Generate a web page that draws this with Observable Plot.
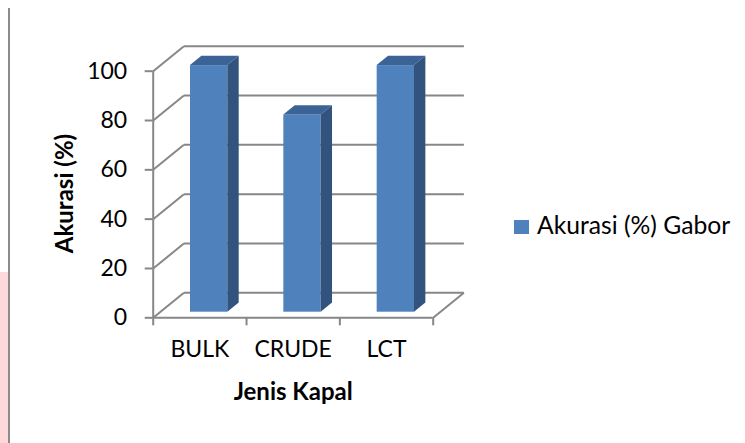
<!DOCTYPE html>
<html>
<head>
<meta charset="utf-8">
<script src="https://cdn.jsdelivr.net/npm/d3@7"></script>
<script src="https://cdn.jsdelivr.net/npm/@observablehq/plot@0.6"></script>
<style>
  html, body { margin: 0; padding: 0; background: #fff; }
  #wrap { position: relative; width: 745px; height: 443px; overflow: hidden; background: #fff; font-family: Lato, "Open Sans", sans-serif; }
  #chart { position: absolute; left: 0; top: 0; }
  #pagebar { position: absolute; left: 8px; top: 8px; width: 2px; height: 435px; background: #8c8c8c; }
  #pink { position: absolute; left: 0; top: 272px; width: 8px; height: 171px; background: #fdd9dc; }
  #legend { position: absolute; left: 514px; top: 210px; display: flex; align-items: center; font-size: 24.7px; color: #000; white-space: nowrap; }
  #legend .sw { width: 15px; height: 14px; background: #4F81BD; margin-right: 8px; margin-top: 5px; }
</style>
</head>
<body>
<div id="wrap">
  <div id="pink"></div>
  <div id="pagebar"></div>
  <div id="chart"></div>
  <div id="legend"><span class="sw"></span><span id="legtext"></span></div>
</div>
<script>
// ---- data ----
const categories = ["BULK", "CRUDE", "LCT"];
const values = [100, 80, 100];
const yTicks = [0, 20, 40, 60, 80, 100];
const seriesName = "Akurasi (%) Gabor";
const yTitle = "Akurasi (%)";
const xTitle = "Jenis Kapal";

// ---- 3D geometry (style constants, in data units) ----
const n = categories.length;
const yMax = 100;
const D = {x: 0.329, y: 10.13};              // full depth of the wall/floor
const fo = {x: 0.224 * D.x, y: 0.224 * D.y}; // bar front plane offset
const bd = {x: 0.37 * D.x, y: 0.37 * D.y};   // bar depth
const barLeft = 0.326, barWidth = 0.4;

const grid = "#878787";
const cFront = "#4F81BD", cTop = "#3C6395", cSide = "#31537D";

const bars = categories.map((c, i) => ({
  cat: c, v: values[i],
  L: i + barLeft + fo.x, R: i + barLeft + barWidth + fo.x
}));
const topPts = bars.flatMap(b => [
  {cat: b.cat, y: b.v + fo.y, x1: b.L, x2: b.R},
  {cat: b.cat, y: b.v + fo.y + bd.y, x1: b.L + bd.x, x2: b.R + bd.x}
]);
const sidePts = bars.flatMap(b => [
  {cat: b.cat, x: b.R, y1: fo.y, y2: b.v + fo.y},
  {cat: b.cat, x: b.R + bd.x, y1: fo.y + bd.y, y2: b.v + fo.y + bd.y}
]);

const fs = 23;
const fsTitle = 24;
const chart = Plot.plot({
  width: 500,
  height: 443,
  marginLeft: 152.7,
  marginRight: 36.6,
  marginTop: 45.7,
  marginBottom: 125.7,
  style: {fontFamily: "Lato, 'Open Sans', sans-serif", background: "transparent", color: "#000"},
  x: {domain: [0, n + D.x], axis: null},
  y: {domain: [0, yMax + D.y], axis: null},
  marks: [
    // back wall gridlines
    Plot.link(yTicks, {x1: D.x, x2: n + D.x, y1: t => t + D.y, y2: t => t + D.y, stroke: grid, strokeWidth: 2}),
    // side wall diagonals
    Plot.link(yTicks, {x1: 0, y1: t => t, x2: D.x, y2: t => t + D.y, stroke: grid, strokeWidth: 2}),
    // floor right edge
    Plot.link([0], {x1: n, y1: 0, x2: n + D.x, y2: D.y, stroke: grid, strokeWidth: 2}),
    // front axes lines
    Plot.ruleX([0], {y1: 0, y2: yMax, stroke: grid, strokeWidth: 2}),
    Plot.ruleY([0], {x1: 0, x2: n, stroke: grid, strokeWidth: 2}),
    // y ticks and labels
    Plot.axisY(yTicks, {anchor: "left", tickSize: 8, tickPadding: 18, fontSize: fs, stroke: grid, strokeWidth: 2, fill: "#000", label: null, tickFormat: d => String(d)}),
    // x ticks (category boundaries)
    Plot.axisX(d3.range(n + 1), {anchor: "bottom", tickSize: 8, stroke: grid, strokeWidth: 2, tickFormat: () => "", label: null}),
    // category labels
    Plot.text(categories, {x: (d, i) => i + 0.5, y: 0, text: d => d, dy: 32, fontSize: fs, fill: "#000"}),
    // bars: front, top, side
    Plot.rect(bars, {x1: "L", x2: "R", y1: fo.y, y2: d => d.v + fo.y, fill: cFront}),
    Plot.areaX(topPts, {y: "y", x1: "x1", x2: "x2", z: "cat", fill: cTop}),
    Plot.areaY(sidePts, {x: "x", y1: "y1", y2: "y2", z: "cat", fill: cSide}),
    // axis titles
    Plot.text([yTitle], {frameAnchor: "left", textAnchor: "middle", lineAnchor: "middle", dx: -87.7, dy: 11.5, rotate: -90, fontSize: fsTitle, fontWeight: "bold", fill: "#000"}),
    Plot.text([xTitle], {x: n / 2, y: 0, dy: 75, fontSize: fsTitle, fontWeight: "bold", fill: "#000"})
  ]
});
document.getElementById("chart").appendChild(chart);
document.getElementById("legtext").textContent = seriesName;
</script>
</body>
</html>
